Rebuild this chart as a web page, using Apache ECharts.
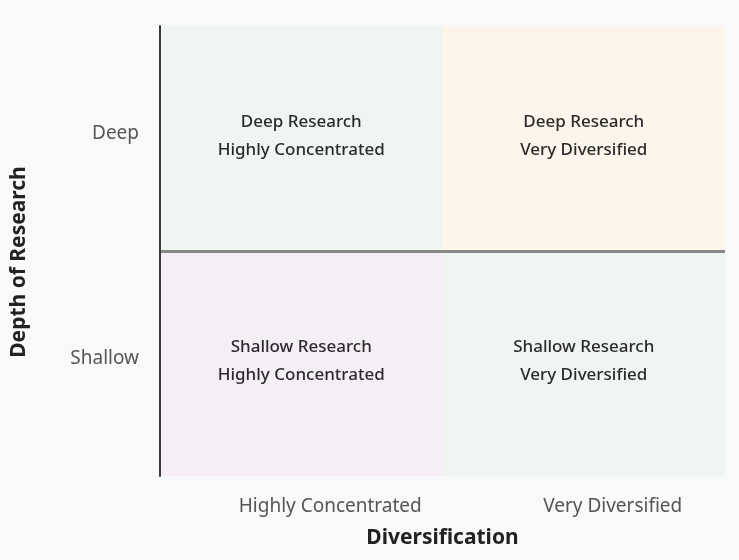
<!DOCTYPE html>
<html>
<head>
<meta charset="utf-8">
<script src="https://cdn.jsdelivr.net/npm/echarts@6/dist/echarts.min.js"></script>
<style>
html,body{margin:0;padding:0;background:#f8f9fb;}
#chart{width:739px;height:560px;}
</style>
</head>
<body>
<div id="chart"></div>
<script>
const xCategories = ['Highly Concentrated', 'Very Diversified'];
const yCategories = ['Shallow', 'Deep'];
const quadrantX = [0, 1, 0, 1];
const quadrantY = [1, 1, 0, 0];
const quadrantLabels = [
  'Deep Research\nHighly Concentrated',
  'Deep Research\nVery Diversified',
  'Shallow Research\nHighly Concentrated',
  'Shallow Research\nVery Diversified'
];
const quadrantColors = ['#eff6f1', '#fdf5ec', '#f6eef7', '#f0f5f1'];

const FONT = '"Noto Sans", "Open Sans", sans-serif';
const chart = echarts.init(document.getElementById('chart'));
chart.setOption({
  backgroundColor: '#f8f9fb',
  textStyle: { fontFamily: FONT },
  grid: { left: 160, right: 14, top: 26, bottom: 84 },
  visualMap: {
    show: false,
    type: 'piecewise',
    dimension: 2,
    pieces: quadrantColors.map((c, i) => ({ value: i, color: c }))
  },
  xAxis: {
    type: 'category',
    data: xCategories,
    name: 'Diversification',
    nameLocation: 'middle',
    nameGap: 52,
    nameTextStyle: { fontSize: 21, fontWeight: 'bold', color: '#222', fontFamily: FONT },
    axisLine: { show: false },
    axisTick: { show: false },
    splitLine: { show: false },
    axisLabel: { fontSize: 19, color: '#555', margin: 21, padding: [0, 0, 0, 58], fontFamily: FONT }
  },
  yAxis: {
    type: 'category',
    data: yCategories,
    z: 5,
    name: 'Depth of Research',
    nameLocation: 'middle',
    nameGap: 130,
    nameTextStyle: { fontSize: 21, fontWeight: 'bold', color: '#222', padding: [0, 22, 0, 0], fontFamily: FONT },
    axisLine: { show: true, lineStyle: { color: '#3a3a3a', width: 2 } },
    axisTick: { show: false },
    splitLine: { show: true, lineStyle: { color: ['rgba(0,0,0,0)', '#888888', 'rgba(0,0,0,0)'], width: 3 } },
    axisLabel: { fontSize: 19, color: '#555', margin: 21, verticalAlign: 'bottom', lineHeight: 10, fontFamily: FONT }
  },
  series: [{
    type: 'heatmap',
    data: quadrantLabels.map((label, i) => ({
      value: [quadrantX[i], quadrantY[i], i],
      name: label
    })),
    label: {
      show: true,
      formatter: p => p.name,
      fontSize: 17,
      lineHeight: 28,
      color: '#2b2b2b',
      fontWeight: 500,
      offset: [0, -2],
      fontFamily: FONT
    },
    emphasis: { disabled: true }
  }]
});
</script>
</body>
</html>
